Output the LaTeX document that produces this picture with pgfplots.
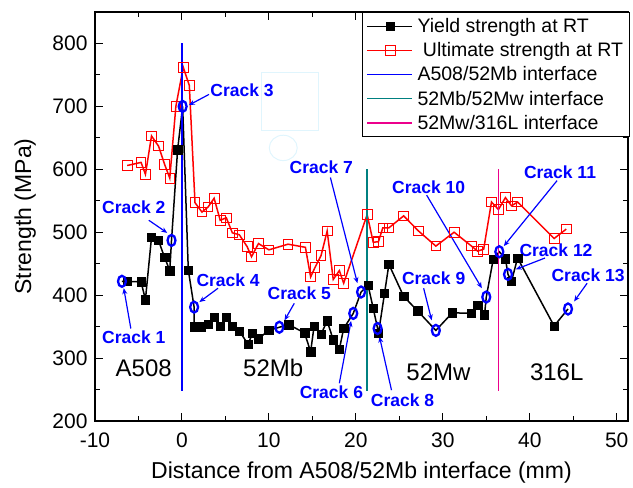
\documentclass[border=0pt]{standalone}
\usepackage{fontspec}
\setmainfont{Liberation Sans}
\usepackage{pgfplots}
\pgfplotsset{compat=1.18}
\usetikzlibrary{arrows.meta,calc}

\definecolor{ifteal}{RGB}{0,128,128}

% crack label + arrow: label pos, arrow start, arrow tip
\newcommand{\crack}[7]{%
  \node[text=blue, font=\bfseries\fontsize{17.5}{17.5}\selectfont] at (axis cs:#2,#3) {Crack #1};
  \draw[blue, line width=1.2pt, -{Stealth[length=6pt,width=5pt]}] (axis cs:#4,#5) -- (axis cs:#6,#7);
}

\begin{document}
\begin{tikzpicture}
\begin{axis}[
    scale only axis,
    width=533pt, height=409pt,
    xmin=-10, xmax=51.3,
    ymin=200, ymax=850,
    xtick={-10,0,...,50},
    ytick={200,300,...,800},
    minor x tick num=1,
    minor y tick num=1,
    tick align=inside,
    major tick length=8pt,
    minor tick length=5pt,
    every tick/.style={black, line width=1pt},
    axis line style={line width=1.5pt},
    ticklabel style={font=\fontsize{21}{21}\selectfont},
    yticklabel style={xshift=-4pt},
    xticklabel style={yshift=-8pt},
    /pgf/number format/assume math mode=true,
    xlabel={Distance from A508/52Mb interface (mm)},
    ylabel={Strength (MPa)},
    label style={font=\fontsize{23}{23}\selectfont},
    xlabel style={at={(axis description cs:0.5,-0.126)}, anchor=center},
    ylabel style={at={(axis description cs:-0.131,0.5)}, anchor=center},
    legend cell align=left,
    legend style={at={(1.003,1)}, anchor=north east, draw=black, line width=1pt,
        font=\fontsize{19.5}{19.5}\selectfont, row sep=5.5pt, inner sep=4.5pt,
        nodes={inner sep=1.5pt}},
    legend image code/.code={%
        \draw[mark=none, line width=1.5pt] (0pt,0pt) -- (45pt,0pt);
        \draw plot[only marks] coordinates {(23pt,0pt)};
        \path (48pt,0pt);},
]

% faint artefacts in the original figure
\draw[cyan!12, line width=1pt] (axis cs:9.2,661) rectangle (axis cs:15.7,754);
\draw[cyan!12, line width=1pt] (axis cs:11.65,634) ellipse (14pt and 12.7pt);

% yield strength (points under crack circles carry no square)
\addplot[black, line width=1.5pt, mark=square*, mark size=4.2pt,
    mark options={solid, line width=0.5pt},
    mark indices={2,3,4,5,6,7,8,10,12,14,15,16,17,18,19,20,21,22,23,24,25,27,28,29,30,31,32,33,34,35,38,39,41,42,43,44,45,47,48,49,50,52,54,56,57,58},
    legend image code/.code={%
        \draw[black, line width=1.5pt] (0pt,0pt) -- (45pt,0pt);
        \fill[black] (19pt,-4pt) rectangle (27pt,4pt);
        \path (48pt,0pt);}]
coordinates {
    (-6.9,422) (-6.3,422) (-4.7,421) (-4.2,393) (-3.5,492) (-2.7,487) (-2.0,460) (-1.4,439)
    (-1.2,487) (-0.5,631) (0.08,700) (0.73,440) (1.4,381) (1.4,350) (2.2,350) (3.0,354)
    (3.7,365) (4.4,351) (5.1,365) (5.8,351) (6.6,343) (7.6,322) (8.1,339) (8.8,331)
    (10.0,344) (11.2,349) (12.3,353) (14.1,340) (14.8,310) (15.2,351) (16.0,338) (16.7,359)
    (17.4,329) (18.1,314) (18.6,347) (19.7,371) (20.6,405) (21.4,416) (22.0,379) (22.5,347)
    (22.6,339) (23.3,403) (23.8,449) (25.5,398) (27.1,375) (29.2,344) (31.1,372) (33.3,371)
    (34.0,384) (34.8,369) (35.0,397) (35.8,457) (36.5,469) (37.2,458) (37.5,433) (37.9,422)
    (38.6,459) (42.8,351) (44.4,378)
};
\addlegendentry{Yield strength at RT}

% ultimate strength
\addplot[red, line width=1.5pt, mark=square, mark size=4.8pt,
    mark options={solid, fill=white, line width=0.8pt}]
coordinates {
    (-6.3,606) (-4.7,611) (-4.2,592) (-3.5,653) (-2.7,637) (-2.0,608) (-1.4,586) (-0.7,700)
    (0.15,762) (0.85,733) (1.5,547) (2.3,532) (3.0,540) (3.7,554) (4.4,519) (5.1,523)
    (5.8,499) (6.6,496) (7.5,477) (8.0,461) (8.8,482) (10.0,472) (12.2,481) (14.2,476)
    (14.8,429) (15.3,444) (16.0,463) (16.7,502) (17.4,425) (18.1,439) (18.6,419) (21.3,528)
    (22.0,484) (22.6,485) (23.1,507) (23.8,507) (25.5,526) (27.2,502) (29.2,478) (31.3,500)
    (33.3,478) (34.0,470) (34.7,473) (35.6,548) (36.4,536) (37.2,555) (37.9,542) (38.6,548)
    (42.8,490) (44.2,505)
};
\addlegendentry{\ Ultimate strength at RT}

% interfaces
\addplot[blue, line width=1.5pt, mark=none] coordinates {(0,248) (0,800)};
\addlegendentry{A508/52Mb interface}
\addplot[ifteal, line width=1.5pt, mark=none] coordinates {(21.3,248) (21.3,600)};
\addlegendentry{52Mb/52Mw interface}
\addplot[magenta, line width=1.5pt, mark=none] coordinates {(36.4,248) (36.4,600)};
\addlegendentry{52Mw/316L interface}

% crack locations
\addplot[only marks, blue, mark=o, mark size=5.5pt,
    mark options={xscale=0.72, line width=2.3pt}, forget plot]
coordinates {
    (-6.9,422) (-1.2,487) (0.08,700) (1.4,381) (11.2,349) (19.7,371) (20.6,405)
    (22.5,347) (29.2,344) (35.0,397) (36.5,469) (37.5,433) (44.4,378)
};

\crack{1}{-5.54}{333}{-5.88}{347}{-6.69}{411}
\crack{2}{-5.54}{540}{-3.81}{519}{-1.7}{499}
\crack{3}{6.92}{725}{3.11}{719}{0.8}{702}
\crack{4}{5.31}{424}{4.15}{411}{2.0}{389}
\crack{5}{13.5}{403}{12.92}{387}{11.8}{360}
\crack{6}{17.19}{246}{18.1}{260}{19.45}{359}
\crack{7}{16.03}{603}{17.07}{587}{20.18}{419}
\crack{8}{25.37}{233}{24.1}{249}{22.72}{334}
\crack{9}{28.95}{427}{27.8}{411}{28.72}{360}
\crack{10}{28.37}{571}{28.14}{559}{34.49}{411}
\crack{11}{43.48}{595}{43.14}{582}{37.02}{478}
\crack{12}{43.02}{471}{41.75}{459}{38.4}{441}
\crack{13}{46.71}{432}{46.6}{419}{45.1}{390}

% materials
\node[font=\fontsize{24}{24}\selectfont] at (axis cs:-4.4,284) {A508};
\node[font=\fontsize{24}{24}\selectfont] at (axis cs:10.5,284) {52Mb};
\node[font=\fontsize{24}{24}\selectfont] at (axis cs:29.5,278) {52Mw};
\node[font=\fontsize{24}{24}\selectfont] at (axis cs:43.1,278) {316L};

\end{axis}
% page margins as in the reference
\path ($(current axis.south west)+(-95pt,-67pt)$) rectangle ($(current axis.north east)+(5pt,12pt)$);
\end{tikzpicture}
\end{document}
